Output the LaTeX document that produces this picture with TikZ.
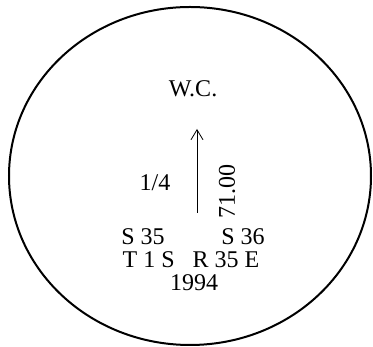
\documentclass[tikz,border=0pt]{standalone}
\usepackage{fontspec}
\setmainfont{Liberation Serif}
\usepackage{tikz}
\usetikzlibrary{arrows.meta, positioning}

\begin{document}
\begin{tikzpicture}[
    x=1pt, y=1pt,
    lbl/.style={inner sep=0pt, font=\fontsize{24}{28}\selectfont},
    rim/.style={draw=black, line width=2pt},
    arr/.style={-{Straight Barb[length=10pt, width=12pt]}, line width=0.8pt}
]
\useasboundingbox (0,0) rectangle (373,347);
\draw[rim] (190,171) ellipse [x radius=181, y radius=169];
\node[lbl] (wc) at (193,258) {W.C.};
\coordinate (tail) at (197,134);
\coordinate (tip) at (197,218);
\draw[arr] (tail) -- (tip);
\node[lbl] (frac) at (155,164) {1/4};
\node[lbl, rotate=90] (len) at (227,155) {71.00};
\node[lbl] (sl) at (143,110) {S 35};
\node[lbl] (sr) at (243,110) {S 36};
\node[lbl] (twp) at (191,87) {T 1 S\ \ \ R 35 E};
\node[lbl] (year) at (194,64) {1994};
\end{tikzpicture}
\end{document}
